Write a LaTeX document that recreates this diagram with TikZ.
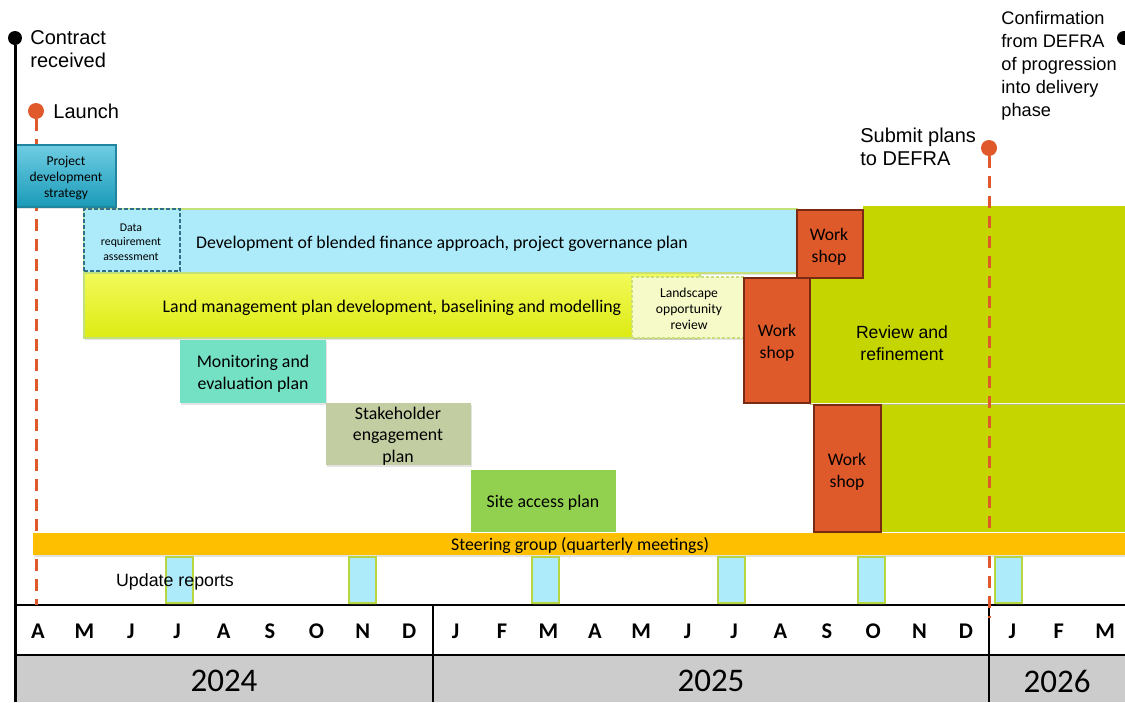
\documentclass[tikz,border=0pt]{standalone}
\usepackage{fontspec}
\setmainfont{Carlito}
\newfontfamily\arialf{Liberation Sans}
\usetikzlibrary{fit,shadows}
\definecolor{msor}{HTML}{E0592A}
\definecolor{cyanl}{HTML}{ADEBFA}
\definecolor{bandb}{HTML}{C3E07A}
\definecolor{datab}{HTML}{2F6F88}
\definecolor{ylt}{HTML}{F2FA5A}
\definecolor{ydk}{HTML}{DDEB12}
\definecolor{lpale}{HTML}{F6FAC8}
\definecolor{lborder}{HTML}{C9DF7A}
\definecolor{monc}{HTML}{74E0C4}
\definecolor{stkc}{HTML}{C3CDA2}
\definecolor{sitec}{HTML}{92D050}
\definecolor{wsfill}{HTML}{DF5A2A}
\definecolor{wsdraw}{HTML}{7A2A12}
\definecolor{rgreen}{HTML}{C5D500}
\definecolor{gapc}{HTML}{B7BE80}
\definecolor{steerc}{HTML}{FDBF00}
\definecolor{updb}{HTML}{B8D640}
\definecolor{tealt}{HTML}{6FCDE3}
\definecolor{tealb}{HTML}{1A9AB8}
\definecolor{teald}{HTML}{2285A0}
\definecolor{yeargray}{HTML}{CCCCCC}
\begin{document}
\begin{tikzpicture}[x=0.5pt,y=-0.5pt,
  box/.style={inner sep=0pt, outer sep=0pt, rectangle},
  shad/.style={drop shadow={shadow xshift=0.6pt, shadow yshift=-1.2pt, opacity=0.22}},
  btxt/.style={font=\fontsize{8.9}{11}\selectfont, align=center, text=black, inner sep=0pt, yshift=-1pt},
  mtxt/.style={font=\arialf\fontsize{10}{11.5}\selectfont, align=left, inner sep=0pt},
  month/.style={font=\bfseries\fontsize{11.2}{13}\selectfont},
  yearlab/.style={font=\fontsize{16.5}{19}\selectfont},
  msdot/.style={circle, fill=msor, inner sep=0pt, minimum size=8pt},
  msline/.style={draw=msor, line width=1.5pt, dash pattern=on 6pt off 4pt},
  ws/.style={box, fill=wsfill, draw=wsdraw, line width=1.2pt},
  upd/.style={box, fill=cyanl, draw=updb, line width=0.6pt},
]
\clip (0,0) rectangle (1125,702);
\fill[white] (0,0) rectangle (1125,702);

% year row and month row
\fill[yeargray] (15,655) rectangle (1125,702);
\draw[line width=0.8pt] (15,605) -- (1125,605);
\draw[line width=0.8pt] (15,655) -- (1125,655);
\draw[line width=0.6pt] (433,605) -- (433,702);
\draw[line width=0.6pt] (989,605) -- (989,702);
\foreach \m [count=\i from 0] in {A,M,J,J,A,S,O,N,D,J,F,M,A,M,J,J,A,S,O,N,D,J,F,M}
  \node[month] (m\i) at ({38+46.4*\i},631) {\m};
\node[yearlab] (y2024) at (224,681) {2024};
\node[yearlab] (y2025) at (711,681) {2025};
\node[yearlab] (y2026) at (1057,681) {2026};

% milestone dots
\node[circle, fill=black, inner sep=0pt, minimum size=7pt] (contract) at (15,38) {};
\node[circle, fill=black, inner sep=0pt, minimum size=7pt] (confirm) at (1124,38) {};
\node[msdot] (launch) at (36,111) {};
\node[msdot] (submit) at (989,148) {};
\coordinate (launchend) at (36,605);
\coordinate (submitend) at (989,618);
\coordinate (contractend) at (15,702);

% launch dashed line
\draw[msline] (launch) -- (launchend);

% review and refinement area
\fill[rgreen] (863,206) -- (1125,206) -- (1125,403) -- (810,403) -- (810,278) -- (863,278) -- cycle;
\fill[rgreen] (881,405) rectangle (1125,532);
\draw[gapc, line width=0.5pt] (810,404) -- (1125,404);
\node[mtxt, align=center, font=\arialf\fontsize{8.8}{11}\selectfont, yshift=-1pt] (review) at (902,341) {Review and\\refinement};

% submit dashed line
\draw[msline] (submit) -- (submitend);

% bands
\node[box, fill=cyanl, draw=bandb, line width=0.8pt, shad, fit={(84,209)(797,273)}] (dev) {};
\node[btxt] (devt) at (442,242) {Development of blended finance approach, project governance plan};
\node[box, fill=cyanl, draw=datab, line width=0.7pt, dash pattern=on 2pt off 1pt, fit={(84,209)(180,271)}] (data) {};
\node[btxt, font=\fontsize{5.9}{7.2}\selectfont] (datat) at (131,240) {Data\\requirement\\assessment};
\node[box, top color=ylt, bottom color=ydk, draw=bandb, line width=0.6pt, shad, fit={(84,273)(700,338)}] (land) {};
\node[btxt] (landt) at (392,306) {Land management plan development, baselining and modelling};
\node[box, fill=lpale, draw=lborder, line width=0.6pt, dash pattern=on 1.5pt off 1pt, shad, fit={(632,277)(745,338)}] (lor) {};
\node[btxt, font=\fontsize{6.8}{8}\selectfont] (lort) at (689,307) {Landscape\\opportunity\\review};
\node[box, fill=monc, shad, fit={(180,340)(326,403)}] (mon) {};
\node[btxt] (mont) at (253,372) {Monitoring and\\evaluation plan};
\node[box, fill=stkc, shad, fit={(326,403)(471,465)}] (stk) {};
\node[btxt, font=\fontsize{8.9}{10.7}\selectfont] (stkt) at (398,434) {Stakeholder\\engagement\\plan};
\node[box, fill=sitec, fit={(471,470)(616,532)}] (site) {};
\node[btxt] (sitet) at (543,501) {Site access plan};

% workshops
\node[ws, fit={(797,210)(863,278)}] (ws1) {};
\node[btxt, font=\fontsize{8.8}{11}\selectfont] (ws1t) at (829,245) {Work\\shop};
\node[ws, fit={(744,278)(810,403)}] (ws2) {};
\node[btxt, font=\fontsize{8.8}{11}\selectfont] (ws2t) at (777,341) {Work\\shop};
\node[ws, fit={(814,405)(881,532)}] (ws3) {};
\node[btxt, font=\fontsize{8.8}{11}\selectfont] (ws3t) at (847,470) {Work\\shop};

% project development strategy
\node[box, top color=tealt, bottom color=tealb, draw=teald, line width=0.6pt, shad, fit={(15,145)(116,207)}] (pds) {};
\node[btxt, font=\fontsize{6.75}{8}\selectfont] (pdst) at (66,176) {Project\\development\\strategy};

% steering group
\node[box, fill=steerc, shad, fit={(33,533)(1125,555)}] (steer) {};
\node[btxt] (steert) at (580,544) {Steering group (quarterly meetings)};

% update reports
\foreach \x [count=\i] in {166,349,532,718,858,995}
  \node[upd, shad, fit={(\x,557)({\x+27},603)}] (u\i) {};
\node[mtxt, font=\arialf\fontsize{8.9}{11}\selectfont, yshift=-1pt] (updt) at (175,580) {Update reports};

% contract line
\draw[line width=1.5pt] (contract) -- (contractend);

% milestone labels
\node[mtxt, anchor=west] (contractt) at (30,49) {Contract\\received};
\node[mtxt, anchor=west] (launcht) at (53,111) {Launch};
\node[mtxt, anchor=west] (submitt) at (860,147) {Submit plans\\to DEFRA};
\node[mtxt, anchor=west, font=\arialf\fontsize{9.1}{11.5}\selectfont] (confirmt) at (1001,66) {Confirmation\\from DEFRA\\of progression\\into delivery\\phase};
\end{tikzpicture}
\end{document}
